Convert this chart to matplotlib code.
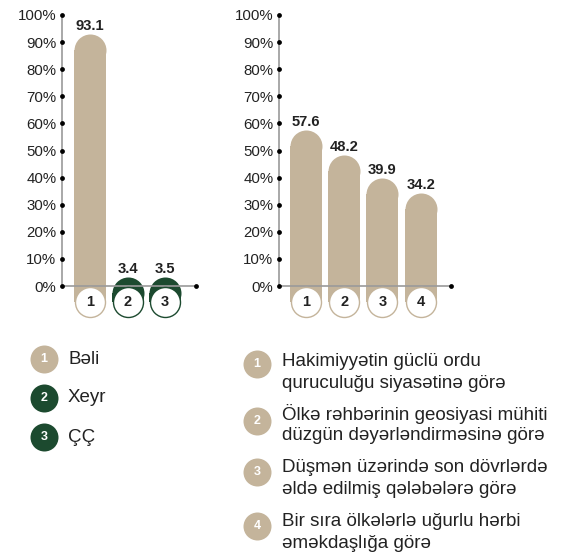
import matplotlib
matplotlib.use("Agg")
import matplotlib.pyplot as plt

plt.rcParams['font.family'] = ['Liberation Sans', 'DejaVu Sans']

# ---- data ----
left_labels = ["1", "2", "3"]
left_values = [93.1, 3.4, 3.5]
left_names = ["Bəli", "Xeyr", "ÇÇ"]
right_labels = ["1", "2", "3", "4"]
right_values = [57.6, 48.2, 39.9, 34.2]
right_names = [
    "Hakimiyyətin güclü ordu\nquruculuğu siyasətinə görə",
    "Ölkə rəhbərinin geosiyasi mühiti\ndüzgün dəyərləndirməsinə görə",
    "Düşmən üzərində son dövrlərdə\nəldə edilmiş qələbələrə görə",
    "Bir sıra ölkələrlə uğurlu hərbi\nəməkdaşlığa görə",
]
yticks = [0, 10, 20, 30, 40, 50, 60, 70, 80, 90, 100]
ytick_labels = [f"{t}%" for t in yticks]

TAN = "#C4B49B"
GREEN = "#1C4A2F"
AXIS = "#9A9A9A"
TXT = "#222222"

W, H = 568, 559
fig = plt.figure(figsize=(W / 100, H / 100), dpi=100)


def fig_rect(x0, x1, ytop, ybot):
    return [x0 / W, (H - ybot) / H, (x1 - x0) / W, (ybot - ytop) / H]


def draw_chart(rect, xlim, values, labels, colors, bar_px=32):
    ax = fig.add_axes(rect)
    ax.set_xlim(*xlim)
    ax.set_ylim(0, 100)
    for s in ["top", "right"]:
        ax.spines[s].set_visible(False)
    for s in ["left", "bottom"]:
        ax.spines[s].set_color(AXIS)
        ax.spines[s].set_linewidth(1.2)
    ax.set_xticks([])
    ax.set_yticks(yticks)
    ax.set_yticklabels(ytick_labels, fontsize=10.8, color=TXT)
    ax.tick_params(axis="y", length=0, pad=4)
    ax.set_facecolor("none")

    axw_px = rect[2] * W
    axh_px = rect[3] * H
    ux = (xlim[1] - xlim[0]) / axw_px   # data units per px (x)
    uy = 100 / axh_px                   # data units per px (y)
    bw = bar_px * ux
    r = bar_px / 2 * uy
    xs = list(range(len(values)))
    circ_y = -16 * uy
    for x, v, c, lab in zip(xs, values, colors, labels):
        bottom = circ_y
        ax.bar(x, (v - r) - bottom, bottom=bottom, width=bw, color=c,
               linewidth=0, clip_on=False, zorder=2)
        ax.scatter([x], [v - r], s=(bar_px * 0.72) ** 2, color=c,
                   linewidths=0, clip_on=False, zorder=2)
        ax.text(x, v + 8 * uy, f"{v}", ha="center", va="center",
                fontsize=10.6, fontweight="bold", color=TXT, zorder=5)
        ax.scatter([x], [circ_y], s=(30 * 0.72) ** 2, facecolor="white",
                   edgecolor=c, linewidths=1.0, clip_on=False, zorder=4)
        ax.text(x, circ_y, lab, ha="center", va="center", fontsize=10.5,
                fontweight="bold", color=TXT, zorder=5)
    # tick dots
    ax.scatter([xlim[0]] * len(yticks), yticks, s=12, color="black",
               clip_on=False, zorder=6, linewidths=0)
    ax.scatter([xlim[1]], [0], s=12, color="black", clip_on=False,
               zorder=6, linewidths=0)
    return ax


draw_chart(fig_rect(62, 196, 15, 286), (-0.75, 2.83), left_values,
           left_labels, [TAN, GREEN, GREEN])
draw_chart(fig_rect(279, 451, 15, 286), (-0.7, 3.79), right_values,
           right_labels, [TAN, TAN, TAN, TAN])

# ---- legends ----
lg = fig.add_axes([0, 0, 1, 1])
lg.set_xlim(0, W)
lg.set_ylim(H, 0)
lg.axis("off")

LFS = 13.5
left_colors = [TAN, GREEN, GREEN]
left_y = [359, 398, 437]
for lab, name, c, y in zip(left_labels, left_names, left_colors, left_y):
    lg.scatter([44], [y], s=(28 * 0.72) ** 2, color=c, linewidths=0)
    lg.text(44, y, lab, ha="center", va="center", fontsize=9,
            fontweight="bold", color="white")
    lg.text(68, y, name, ha="left", va="center", fontsize=LFS, color=TXT)

circ_y = [364, 421, 472, 526]
text_y = [362, 414, 468, 522]
for lab, name, cy, ty in zip(right_labels, right_names, circ_y, text_y):
    lg.scatter([257], [cy], s=(28 * 0.72) ** 2, color=TAN, linewidths=0)
    lg.text(257, cy, lab, ha="center", va="center", fontsize=9,
            fontweight="bold", color="white")
    l1, l2 = name.split("\n")
    lg.text(282, ty, l1, ha="left", va="center", fontsize=LFS, color=TXT)
    lg.text(282, ty + 22, l2, ha="left", va="center", fontsize=LFS, color=TXT)

fig.savefig("out.png", dpi=100)
